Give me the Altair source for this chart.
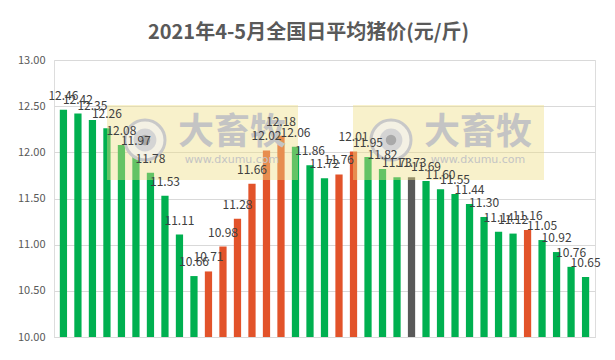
import altair as alt
import pandas as pd

days = [str(i) for i in range(1, 38)]
prices = [12.46, 12.42, 12.35, 12.26, 12.08, 11.97, 11.78, 11.53, 11.11, 10.66,
          10.71, 10.98, 11.28, 11.66, 12.02, 12.18, 12.06, 11.86, 11.72, 11.76,
          12.01, 11.95, 11.82, 11.73, 11.73, 11.69, 11.60, 11.55, 11.44, 11.30,
          11.14, 11.12, 11.16, 11.05, 10.92, 10.76, 10.65]
trend = ["跌"] * 10 + ["涨"] * 6 + ["跌"] * 3 + ["涨"] * 2 + ["跌"] * 3 + ["平"] + \
        ["跌"] * 7 + ["涨"] + ["跌"] * 4
label_text = ["%.2f" % p for p in prices]

df = pd.DataFrame({"day": days, "price": prices, "trend": trend, "label": label_text})

FONT = "Noto Sans CJK SC"
W, H = 541, 277

xenc = alt.X("day:N", sort=None, title=None,
             scale=alt.Scale(paddingInner=0.5, paddingOuter=0.4),
             axis=alt.Axis(labels=False, ticks=False, domain=True, domainColor="#D9D9D9", grid=False))
yscale = alt.Scale(domain=[10, 13], nice=False, zero=False)

bars = alt.Chart(df).mark_bar().encode(
    x=xenc,
    y=alt.Y("price:Q", scale=yscale, title=None,
            axis=alt.Axis(values=[10, 10.5, 11, 11.5, 12, 12.5, 13], format=".2f",
                          labelColor="#595959", labelFontSize=11, labelFont=FONT,
                          labelPadding=9, ticks=False, domain=False,
                          gridColor="#D9D9D9")),
    y2=alt.datum(10),
    color=alt.Color("trend:N", legend=None,
                    scale=alt.Scale(domain=["跌", "涨", "平"],
                                    range=["#00B050", "#E2532A", "#595959"])),
)

one = pd.DataFrame({"a": [0]})


def watermark(ox):
    base = alt.Chart(one)
    rect = base.mark_rect(fill="#EEDD82", opacity=0.42).encode(
        x=alt.value(ox), x2=alt.value(ox + 191), y=alt.value(45), y2=alt.value(120))
    ring = base.mark_point(shape="circle", filled=True, fill="#F4F1E4", stroke="#C8C8C8",
                           strokeWidth=3, size=1600, opacity=1).encode(
        x=alt.value(ox + 38), y=alt.value(80))
    eye = base.mark_point(shape="circle", filled=True, color="#D4D4D4", size=520, opacity=1).encode(
        x=alt.value(ox + 38), y=alt.value(80))
    dot = base.mark_point(shape="circle", filled=True, color="#A9A9A9", size=110, opacity=1).encode(
        x=alt.value(ox + 38), y=alt.value(80))
    big = base.mark_text(text="大畜牧", font=FONT, fontSize=36, fontWeight="bold",
                         color="#C4C4C4", align="center", baseline="middle").encode(
        x=alt.value(ox + 125), y=alt.value(73))
    small = base.mark_text(text="www.dxumu.com", font="DejaVu Sans", fontSize=11,
                           color="#C4C4C4", align="center", baseline="middle").encode(
        x=alt.value(ox + 125), y=alt.value(100))
    return [rect, ring, eye, dot, big, small]


labels = alt.Chart(df).mark_text(font=FONT, fontSize=12, color="#404040",
                                 baseline="middle", align="center", dy=-14).encode(
    x=xenc,
    y=alt.Y("price:Q", scale=yscale),
    text="label:N",
)

chart = alt.layer(bars, *watermark(53), *watermark(299), labels).properties(
    width=W, height=H,
    padding={"left": 54, "top": 60, "right": 20, "bottom": 23},
    autosize=alt.AutoSizeParams(type="none"),
    title=alt.TitleParams("2021年4-5月全国日平均猪价(元/斤)", font=FONT, fontSize=20,
                          fontWeight="bold", color="#595959", offset=11, dx=-16),
).configure_view(stroke=None).configure(background="white")

chart.save("out.html", embed_options={"renderer": "svg", "actions": False})
